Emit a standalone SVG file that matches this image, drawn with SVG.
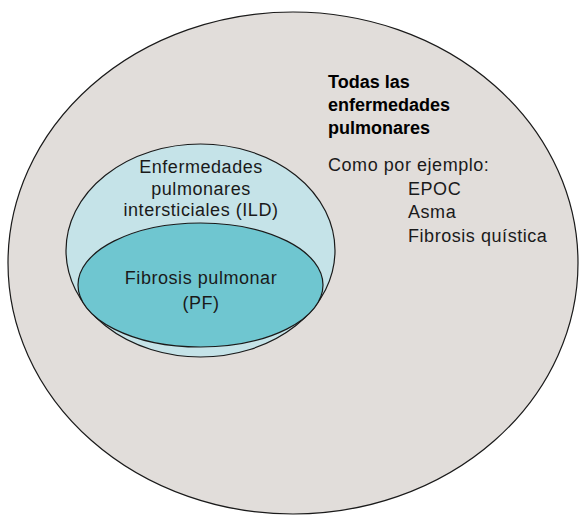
<svg xmlns="http://www.w3.org/2000/svg" width="580" height="515" viewBox="0 0 580 515">
<style>
.shape{stroke:#1a1a1a;stroke-width:1.2}
.t{font-family:"Liberation Sans",Arial,sans-serif;font-size:18px;fill:#1a1a1a;letter-spacing:0.55px}
.b{font-family:"Liberation Sans",Arial,sans-serif;font-size:18px;font-weight:bold;fill:#000}
.c{text-anchor:middle}
</style>
<rect width="580" height="515" fill="#ffffff"/>
<g id="all-lung-diseases">
<ellipse class="shape" cx="293" cy="263" rx="285" ry="251" fill="#e1ddda"/>
<text class="b" x="328" y="88">Todas las</text>
<text class="b" x="328" y="111">enfermedades</text>
<text class="b" x="328" y="134">pulmonares</text>
<text class="t" x="328" y="171">Como por ejemplo:</text>
<text class="t" x="408" y="195">EPOC</text>
<text class="t" x="408" y="218">Asma</text>
<text class="t" x="408" y="242">Fibrosis quística</text>
</g>
<g id="ild">
<ellipse class="shape" cx="200.5" cy="250.5" rx="134.5" ry="106.5" fill="#c5e3e8"/>
<text class="t c" x="201" y="173">Enfermedades</text>
<text class="t c" x="201" y="195">pulmonares</text>
<text class="t c" x="201" y="216">intersticiales (ILD)</text>
</g>
<g id="pf">
<ellipse class="shape" cx="200.5" cy="285" rx="122.5" ry="62" fill="#6fc6d0"/>
<text class="t c" x="201" y="284">Fibrosis pulmonar</text>
<text class="t c" x="201" y="309">(PF)</text>
</g>
<g id="connectors"/>
</svg>
